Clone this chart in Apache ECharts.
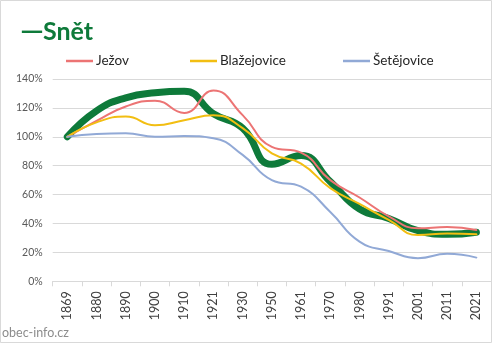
<!DOCTYPE html>
<html>
<head>
<meta charset="utf-8">
<script src="https://cdn.jsdelivr.net/npm/echarts@6/dist/echarts.min.js"></script>
<style>
  html, body { margin: 0; padding: 0; background: #fff; }
  #chart { width: 492px; height: 343px; }
</style>
</head>
<body>
<div id="chart"></div>
<script>
// Census years (x axis)
const years = ['1869', '1880', '1890', '1900', '1910', '1921', '1930', '1950', '1961', '1970', '1980', '1991', '2001', '2011', '2021'];

// Population relative to 1869, in percent
const snet        = [100, 118, 127, 130.5, 131.5, 116, 106, 81, 87, 69, 50, 43.5, 35, 32.5, 34];
const jezov       = [100, 111, 121, 125, 116.5, 132, 115, 93, 89, 70, 58, 45, 36.7, 37.5, 35.5];
const blazejovice = [100, 110, 114, 108, 111.5, 115, 106, 88.5, 81.5, 64.5, 53.5, 42.5, 32, 33, 32.5];
const setejovice  = [100, 102, 102.4, 100, 100.5, 99, 87.5, 70, 65.5, 48, 27.5, 21, 16, 19, 16.4];

// Value axis ticks
const yTicks = [0, 20, 40, 60, 80, 100, 120, 140];

const font = 'Lato';
const green = '#0E7A3A';
const chart = echarts.init(document.getElementById('chart'), null, { renderer: 'canvas' });

function line(name, data, color, width, z) {
  return {
    name, type: 'line', data, smooth: 0.5, symbol: 'none', z,
    lineStyle: { color, width, cap: 'round', join: 'round' },
    itemStyle: { color }
  };
}

function legendAt(name, left) {
  return {
    data: [name], left, top: 49, icon: 'rect', itemWidth: 27, itemHeight: 2.5, itemGap: 0,
    textStyle: { fontFamily: font, fontSize: 13.5, color: '#262626', padding: [0, 0, 0, -2] }
  };
}

chart.setOption({
  animation: false,
  backgroundColor: '#fff',
  title: {
    text: '{d|—}{s|Snět}', left: 16, top: 14,
    textStyle: {
      rich: {
        d: { fontFamily: 'Noto Sans', fontWeight: 'bold', fontSize: 22, color: green },
        s: { fontFamily: font, fontWeight: 'bold', fontSize: 25, color: green }
      }
    }
  },
  legend: [legendAt('Ježov', 61), legendAt('Blažejovice', 185), legendAt('Šetějovice', 338)],
  grid: { left: 52.7, right: 1, top: 79, bottom: 61.7, containLabel: false },
  xAxis: {
    type: 'category', data: years, boundaryGap: true,
    axisLine: { lineStyle: { color: '#d9d9d9', width: 1 } },
    axisTick: { show: true, length: 5, lineStyle: { color: '#d9d9d9' } },
    axisLabel: { rotate: 90, fontFamily: font, fontSize: 12.5, color: '#404040', margin: 10, interval: 0 }
  },
  yAxis: {
    type: 'value', min: yTicks[0], max: yTicks[yTicks.length - 1], interval: 20,
    axisLine: { show: false }, axisTick: { show: false },
    splitLine: { lineStyle: { color: '#d9d9d9', width: 1 } },
    axisLabel: { formatter: v => v + '%', fontFamily: font, fontSize: 10.5, color: '#595959', margin: 10 }
  },
  series: [
    line('Snět', snet, green, 7, 2),
    line('Ježov', jezov, '#EC7474', 2, 3),
    line('Blažejovice', blazejovice, '#F2BE12', 2, 4),
    line('Šetějovice', setejovice, '#91A9D6', 2, 5)
  ],
  graphic: [
    {
      type: 'rect', silent: true, z: 100,
      shape: { x: 0.5, y: 0.5, width: 491, height: 342 },
      style: { fill: 'none', stroke: '#d9d9d9', lineWidth: 1 }
    },
    {
      type: 'text', left: 2, top: 326, z: 100,
      style: { text: 'obec-info.cz', fontFamily: font, fontSize: 12.5, fill: '#8c8c8c' }
    }
  ]
});
</script>
</body>
</html>
